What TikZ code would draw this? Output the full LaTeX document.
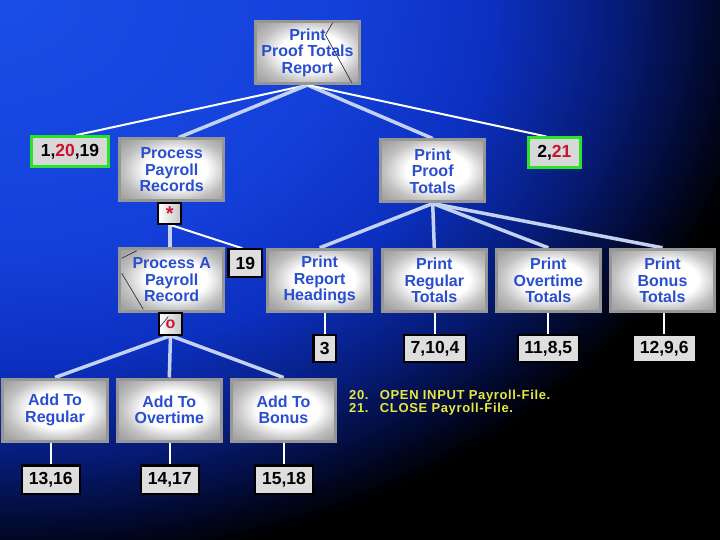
\documentclass[tikz,border=0pt]{standalone}
\usepackage{fontspec}
\setmainfont{Liberation Sans}
\newfontfamily\notefont[LetterSpace=5]{Liberation Sans}
\definecolor{bg0}{RGB}{26,78,230}
\definecolor{bg1}{RGB}{20,64,218}
\definecolor{bg2}{RGB}{12,48,192}
\definecolor{bg3}{RGB}{6,28,122}
\definecolor{bg4}{RGB}{2,10,50}
\definecolor{lblblue}{RGB}{42,78,208}
\definecolor{boxborder}{RGB}{150,150,150}
\definecolor{boxmid}{RGB}{192,192,192}
\definecolor{boxedge}{RGB}{162,162,162}
\definecolor{numfill}{RGB}{222,222,222}
\definecolor{gfill}{RGB}{216,216,216}
\definecolor{gborder}{RGB}{40,228,40}
\definecolor{symred}{RGB}{210,20,50}
\definecolor{numred}{RGB}{200,20,45}
\definecolor{linelight}{RGB}{196,210,242}
\definecolor{scratchcol}{RGB}{30,30,60}
\definecolor{noteyellow}{RGB}{232,232,64}
\pgfdeclareradialshading{bgrad}{\pgfpoint{0bp}{0bp}}{color(0bp)=(bg0); color(11bp)=(bg1); color(16bp)=(bg2); color(20bp)=(bg3); color(23bp)=(bg4); color(25bp)=(black); color(50bp)=(black)}
\pgfdeclareradialshading{boxsh}{\pgfpoint{3bp}{1bp}}{color(0bp)=(white); color(15bp)=(white); color(25bp)=(boxmid); color(33bp)=(boxedge); color(50bp)=(boxedge)}
\pgfdeclarelayer{back}
\pgfdeclarelayer{edges}
\pgfsetlayers{back,edges,main}
\tikzset{
  lbl/.style={font=\fontsize{16bp}{16.5bp}\selectfont\bfseries, text=lblblue, align=center},
  mbox/.style={lbl, shading=boxsh, draw=boxborder, line width=3bp, minimum width=104bp, minimum height=62bp, inner sep=0pt},
  numfont/.style={font=\fontsize{17.5bp}{18bp}\selectfont\bfseries, text=black},
  nbox/.style={numfont, fill=numfill, draw=black, line width=2.2bp, inner sep=0pt, minimum height=27bp},
  gbox/.style={numfont, fill=gfill, draw=gborder, line width=3bp, inner sep=0pt, minimum height=30bp},
  sbox/.style={left color=white, right color=gray!45, draw=black, line width=1.8bp, minimum width=23bp, minimum height=21bp, inner sep=0pt, text=symred, font=\fontsize{20bp}{20bp}\selectfont\bfseries},
  trunk/.style={draw=linelight, line width=3.5bp},
  twig/.style={draw=white, line width=2bp},
  scratch/.style={draw=scratchcol, line width=0.6bp}
}
\begin{document}
\begin{tikzpicture}[x=1bp,y=-1bp]
\useasboundingbox (0,0) rectangle (720,540);
\begin{pgfonlayer}{back}
\fill[black] (0,0) rectangle (720,540);
\begin{scope}
\clip (0,0) rectangle (720,540);
\shade[shading=bgrad] (-770,-570) rectangle (770,570);
\end{scope}
\end{pgfonlayer}

% main boxes
\node[mbox] (top) at (307.5,52.5) {Print\\Proof Totals\\Report};
\node[mbox] (ppr) at (171.7,170) {Process\\Payroll\\Records};
\node[mbox] (ppt) at (432.7,171) {Print\\Proof\\Totals};
\node[mbox] (pap) at (171.7,280) {Process A\\Payroll\\Record};
\node[mbox] (prh) at (319.7,280.3) {Print\\Report\\Headings};
\node[mbox] (prt) at (434.3,280.3) {Print\\Regular\\Totals};
\node[mbox] (pot) at (548.3,280.3) {Print\\Overtime\\Totals};
\node[mbox] (pbt) at (662.5,280.3) {Print\\Bonus\\Totals};
\node[mbox] (atr) at (55,410) {Add To\\Regular};
\node[mbox] (ato) at (169.3,410) {Add To\\Overtime};
\node[mbox] (atb) at (283.5,410) {Add To\\Bonus};

% green boxes
\node[gbox, minimum width=77bp] (p1) at (70,151.7) {1,\textcolor{numred}{20},19};
\node[gbox, minimum width=52bp] (p2) at (554.3,153) {2,\textcolor{numred}{21}};

% number boxes
\node[nbox, minimum width=33.8bp, minimum height=27.8bp] (n19) at (245.3,263.3) {19};
\node[nbox, minimum width=22.8bp] (n3) at (324.8,348.7) {3};
\node[nbox, minimum width=62.4bp] (n7104) at (435,348.7) {7,10,4};
\node[nbox, minimum width=61bp] (n1185) at (548.3,348.7) {11,8,5};
\node[nbox, minimum width=62.8bp] (n1296) at (664.2,348.7) {12,9,6};
\node[nbox, minimum width=57.8bp, minimum height=28.5bp] (n1316) at (50.8,479.7) {13,16};
\node[nbox, minimum width=57.8bp, minimum height=28.5bp] (n1417) at (169.7,479.7) {14,17};
\node[nbox, minimum width=57.8bp, minimum height=28.5bp] (n1518) at (284,479.7) {15,18};

% symbol boxes
\node[sbox] (star) at (169.8,213.3) {\raisebox{-0.3em}{*}};
\node[sbox, minimum width=22.6bp, minimum height=22bp, font=\fontsize{16bp}{16bp}\selectfont\bfseries] (ob) at (170.5,323.8) {o};

% note
\node[anchor=base west, text=noteyellow, inner sep=0pt, font={\fontsize{13bp}{13.6bp}\notefont\bfseries}] (note) at (349,399.3)
  {\begin{tabular}[t]{@{}p{30.7bp}@{}l@{}}20. & OPEN INPUT Payroll-File.\\21. & CLOSE Payroll-File.\end{tabular}};

% connectors
\begin{pgfonlayer}{edges}
\draw[twig] (top.south) -- ([xshift=6bp]p1.north);
\draw[trunk] (top.south) -- ([xshift=7bp]ppr.north);
\draw[trunk] (top.south) -- (ppt.north);
\draw[twig] (top.south) -- ([xshift=-8bp]p2.north);
\draw[trunk] (star.south) -- (star.south |- pap.north);
\draw[twig] (star.south) -- ([xshift=-3bp]n19.north);
\foreach \c in {prh,prt,pot,pbt} \draw[trunk] (ppt.south) -- (\c.north);
\foreach \c in {atr,ato,atb} \draw[trunk] (ob.south) -- (\c.north);
\foreach \a/\b in {prh/n3,prt/n7104,pot/n1185,pbt/n1296,atr/n1316,ato/n1417,atb/n1518}
  \draw[twig] (\b.north) -- (\b.north |- \a.south);
\end{pgfonlayer}

% stray pen strokes on the slide
\draw[scratch] (332.7,22.7) -- (325.5,35) -- (351.7,82.5);
\draw[scratch] (121.7,258.3) -- (136.7,250.7);
\draw[scratch] (121.7,273.3) -- (143.3,309.3);
\draw[scratch] (160,326.7) -- (168.3,316.7);
\end{tikzpicture}
\end{document}
